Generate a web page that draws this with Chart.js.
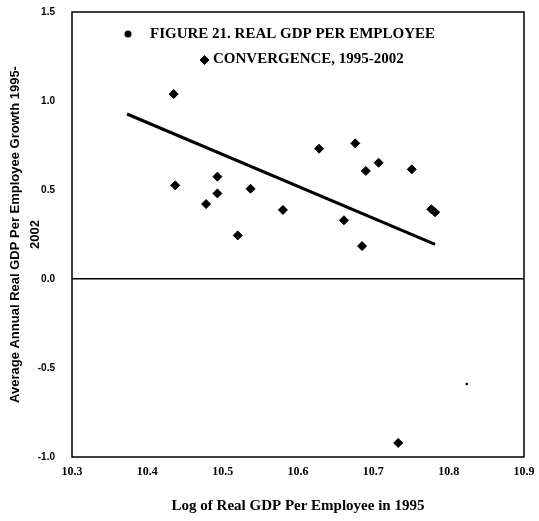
<!DOCTYPE html>
<html>
<head>
<meta charset="utf-8">
<script src="https://cdn.jsdelivr.net/npm/chart.js@4"></script>
<style>
  html, body { margin: 0; padding: 0; background: #fff; }
  #wrap { width: 539px; height: 521px; }
</style>
</head>
<body>
<div id="wrap"><canvas id="chart" width="539" height="521"></canvas></div>
<script>
// log of real GDP per employee in 1995 (x) and avg annual growth 1995-2002 (y)
const gdp1995 = [10.435, 10.437, 10.493, 10.493, 10.478, 10.537, 10.580, 10.520, 10.628,
                 10.661, 10.676, 10.690, 10.707, 10.751, 10.777, 10.782, 10.685, 10.733, 10.476];
const growth  = [1.039, 0.526, 0.575, 0.481, 0.421, 0.507, 0.388, 0.245, 0.732,
                 0.330, 0.762, 0.607, 0.653, 0.616, 0.392, 0.375, 0.185, -0.921, 1.23];

// fitted trend line end points
const fitX = [10.373, 10.782];
const fitY = [0.927, 0.195];

// stray speck in the original scan
const speckX = [10.824];
const speckY = [-0.59];

const xTicks = [10.3, 10.4, 10.5, 10.6, 10.7, 10.8, 10.9];
const yTicks = [-1.0, -0.5, 0.0, 0.5, 1.0, 1.5];

const legendLines = ['FIGURE 21. REAL GDP PER EMPLOYEE', 'CONVERGENCE, 1995-2002'];

const pts = (xs, ys) => xs.map((x, i) => ({ x, y: ys[i] }));

// frame + in-plot legend text
const frameLegend = {
    id: 'frameLegend',
    afterDraw(chart) {
        const { ctx, chartArea: a } = chart;
        ctx.save();
        ctx.strokeStyle = '#000';
        ctx.lineWidth = 1.5;
        ctx.strokeRect(a.left, a.top, a.right - a.left, a.bottom - a.top);

        ctx.fillStyle = '#000';
        ctx.beginPath();
        ctx.arc(128, 34, 3.5, 0, Math.PI * 2);
        ctx.fill();

        ctx.font = 'bold 15px "Liberation Serif", serif';
        ctx.textBaseline = 'middle';
        ctx.textAlign = 'left';
        ctx.fillText(legendLines[0], 150, 34);
        ctx.fillText(legendLines[1], 213, 59);
        ctx.restore();
    }
};

const ctx = document.getElementById('chart').getContext('2d');
new Chart(ctx, {
    type: 'scatter',
    data: {
        datasets: [
            {
                label: 'points',
                data: pts(gdp1995, growth),
                pointStyle: 'rectRot',
                pointRadius: 4.5,
                backgroundColor: '#000',
                borderColor: '#000',
                borderWidth: 1
            },
            {
                label: 'fit',
                type: 'line',
                data: pts(fitX, fitY),
                borderColor: '#000',
                borderWidth: 3,
                pointRadius: 0,
                fill: false
            },
            {
                label: 'speck',
                data: pts(speckX, speckY),
                pointRadius: 1.3,
                backgroundColor: '#000',
                borderWidth: 0
            }
        ]
    },
    options: {
        responsive: false,
        animation: false,
        layout: { padding: { top: 12, right: 15, left: 0, bottom: 0 } },
        plugins: { legend: { display: false }, tooltip: { enabled: false } },
        scales: {
            x: {
                type: 'linear',
                min: 10.3,
                max: 10.9,
                afterBuildTicks: s => { s.ticks = xTicks.map(v => ({ value: v })); },
                afterFit: s => { s.height = 64; s.paddingLeft = 0; s.paddingRight = 0; },
                grid: { display: false, drawTicks: false },
                border: { display: false },
                ticks: {
                    color: '#000',
                    padding: 8,
                    maxRotation: 0,
                    font: { family: '"Liberation Serif", serif', size: 12, weight: 'bold' },
                    callback: v => v.toFixed(1)
                },
                title: {
                    display: true,
                    text: 'Log of Real GDP Per Employee in 1995',
                    color: '#000',
                    padding: { top: 0, bottom: 6 },
                    font: { family: '"Liberation Serif", serif', size: 15, weight: 'bold', lineHeight: 1.2 }
                }
            },
            y: {
                type: 'linear',
                min: -1.0,
                max: 1.5,
                afterBuildTicks: s => { s.ticks = yTicks.map(v => ({ value: v })); },
                afterFit: s => { s.width = 72; s.paddingTop = 0; s.paddingBottom = 0; },
                grid: {
                    drawTicks: false,
                    color: c => (c.tick && c.tick.value === 0 ? '#000' : 'rgba(0,0,0,0)'),
                    lineWidth: 1.5
                },
                border: { display: false },
                ticks: {
                    color: '#000',
                    padding: 17,
                    font: { family: '"Liberation Sans", sans-serif', size: 10, weight: 'bold' },
                    callback: v => v.toFixed(1)
                },
                title: {
                    display: true,
                    text: ['Average Annual Real GDP Per Employee Growth 1995-', '2002'],
                    color: '#000',
                    padding: { top: 5, bottom: 0 },
                    font: { family: '"Liberation Sans", sans-serif', size: 13, weight: 'bold', lineHeight: 1.55 }
                }
            }
        }
    },
    plugins: [frameLegend]
});
</script>
</body>
</html>
